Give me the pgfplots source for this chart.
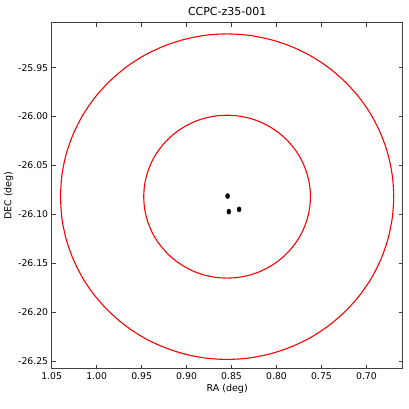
\documentclass[border=0pt]{standalone}
\usepackage{fontspec}
\setmainfont{DejaVu Sans}
\usepackage{pgfplots}
\pgfplotsset{compat=1.18}

\begin{document}
\begin{tikzpicture}
\begin{axis}[
  scale only axis,
  width=351pt, height=346pt,
  x dir=reverse,
  xmin=0.6597, xmax=1.05,
  ymin=-26.258, ymax=-25.904,
  xtick={0.70,0.75,...,1.051},
  ytick={-26.25,-26.20,...,-25.94},
  xticklabel style={/pgf/number format/.cd,fixed,fixed zerofill,precision=2},
  yticklabel style={/pgf/number format/.cd,fixed,fixed zerofill,precision=2},
  /pgf/number format/assume math mode=true,
  tick label style={font=\fontsize{9.3}{10}\selectfont},
  label style={font=\fontsize{9.5}{11}\selectfont},
  title style={font=\fontsize{11}{13}\selectfont, yshift=-2pt},
  title={CCPC-z35-001},
  xlabel={RA (deg)},
  ylabel={DEC (deg)},
  tick align=inside,
  major tick length=4pt,
  axis line style={black!75, line width=1pt},
  tick style={black!75, line width=0.7pt},
  xlabel style={yshift=2pt},
  ylabel style={yshift=-2pt},
]
% inner circle (5 arcmin)
\addplot[red, line width=1.1pt, smooth, no markers] coordinates {
(0.9477,-26.0820) (0.9469,-26.0711) (0.9445,-26.0604) (0.9406,-26.0501)
(0.9353,-26.0403) (0.9285,-26.0313) (0.9205,-26.0231) (0.9114,-26.0159)
(0.9014,-26.0099) (0.8905,-26.0050) (0.8790,-26.0015) (0.8671,-25.9994)
(0.8550,-25.9987) (0.8429,-25.9994) (0.8310,-26.0015) (0.8195,-26.0050)
(0.8086,-26.0099) (0.7986,-26.0159) (0.7895,-26.0231) (0.7815,-26.0313)
(0.7747,-26.0403) (0.7694,-26.0501) (0.7655,-26.0604) (0.7631,-26.0711)
(0.7623,-26.0820) (0.7631,-26.0929) (0.7655,-26.1036) (0.7694,-26.1139)
(0.7747,-26.1237) (0.7815,-26.1327) (0.7895,-26.1409) (0.7986,-26.1481)
(0.8086,-26.1541) (0.8195,-26.1590) (0.8310,-26.1625) (0.8429,-26.1646)
(0.8550,-26.1653) (0.8671,-26.1646) (0.8790,-26.1625) (0.8905,-26.1590)
(0.9014,-26.1541) (0.9114,-26.1481) (0.9205,-26.1409) (0.9285,-26.1327)
(0.9353,-26.1237) (0.9406,-26.1139) (0.9445,-26.1036) (0.9469,-26.0929)
(0.9477,-26.0820)
};
% outer circle (10 arcmin)
\addplot[red, line width=1.1pt, smooth, no markers] coordinates {
(1.0403,-26.0820) (1.0387,-26.0603) (1.0340,-26.0389) (1.0262,-26.0183)
(1.0155,-25.9987) (1.0020,-25.9806) (0.9860,-25.9643) (0.9678,-25.9499)
(0.9477,-25.9378) (0.9259,-25.9282) (0.9030,-25.9212) (0.8792,-25.9169)
(0.8550,-25.9155) (0.8308,-25.9169) (0.8070,-25.9212) (0.7841,-25.9282)
(0.7623,-25.9378) (0.7422,-25.9499) (0.7240,-25.9643) (0.7080,-25.9806)
(0.6945,-25.9987) (0.6838,-26.0183) (0.6760,-26.0389) (0.6713,-26.0603)
(0.6697,-26.0820) (0.6713,-26.1037) (0.6760,-26.1251) (0.6838,-26.1457)
(0.6945,-26.1653) (0.7080,-26.1834) (0.7240,-26.1997) (0.7422,-26.2141)
(0.7623,-26.2262) (0.7841,-26.2358) (0.8070,-26.2428) (0.8308,-26.2471)
(0.8550,-26.2485) (0.8792,-26.2471) (0.9030,-26.2428) (0.9259,-26.2358)
(0.9477,-26.2262) (0.9678,-26.2141) (0.9860,-26.1997) (1.0020,-26.1834)
(1.0155,-26.1653) (1.0262,-26.1457) (1.0340,-26.1251) (1.0387,-26.1037)
(1.0403,-26.0820)
};
% members
\addplot[only marks, mark=*, black, mark size=2pt, mark options={yscale=1.3}] coordinates {
(0.8544,-26.0814) (0.8530,-26.0973) (0.8416,-26.0950)
};
\end{axis}
\path (current axis.south west) ++(-51.7pt,-40pt) coordinate (bbsw);
\path (current axis.north east) ++(6.3pt,22.7pt) coordinate (bbne);
\path (bbsw) rectangle (bbne);
\end{tikzpicture}
\end{document}
